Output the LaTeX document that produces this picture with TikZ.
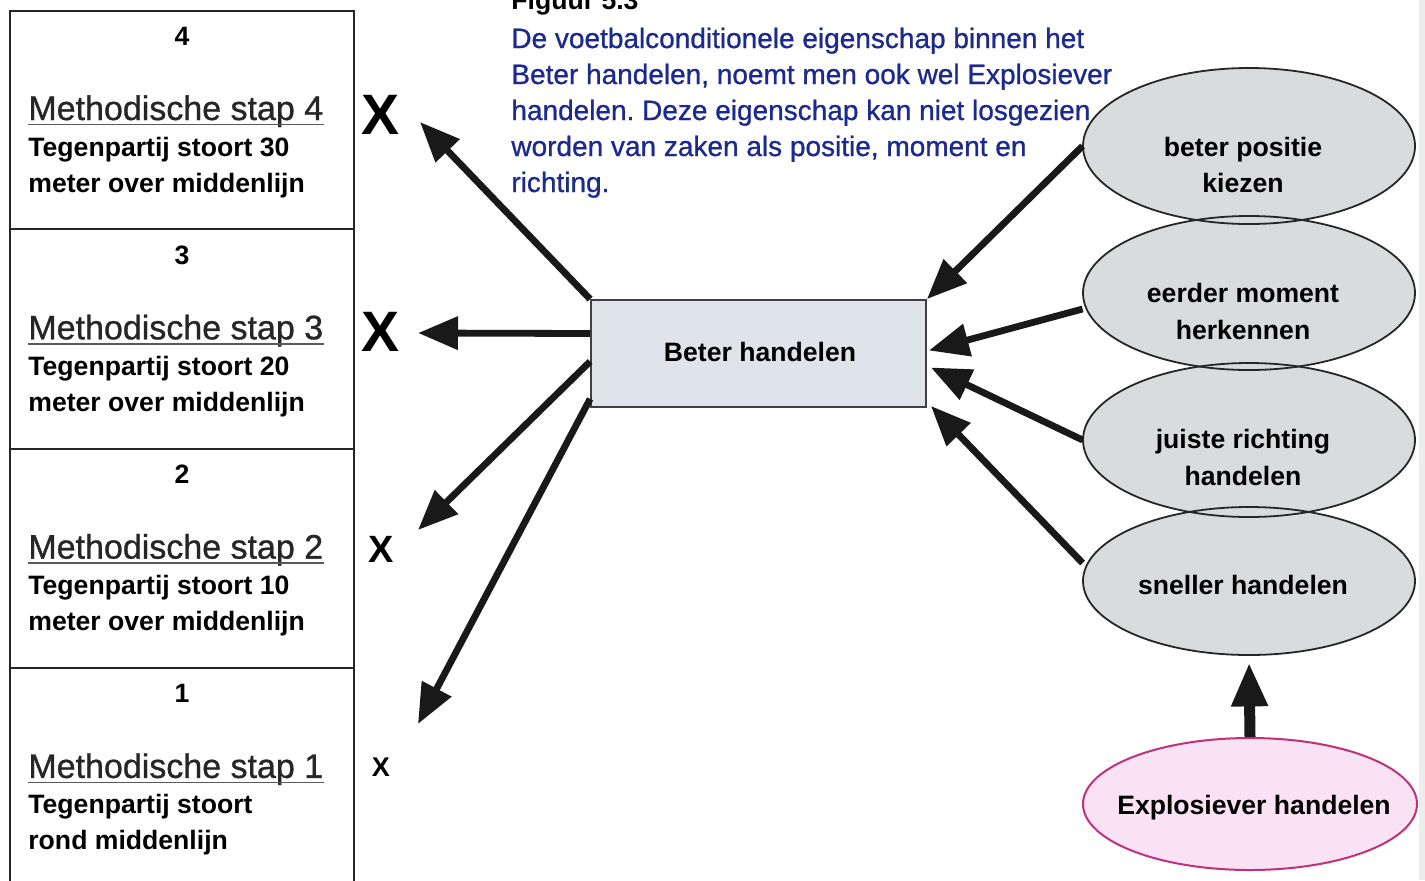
\documentclass[tikz,border=0pt]{standalone}
\usepackage{fontspec}
\setmainfont{Liberation Sans}
\newfontfamily\medfont[FakeBold=0.9]{Liberation Sans}
\usetikzlibrary{arrows.meta,shapes.geometric}
\definecolor{navytext}{HTML}{1B2A8C}
\definecolor{methgray}{HTML}{262626}
\definecolor{boxfill}{HTML}{DEE4E9}
\definecolor{ellfill}{HTML}{D9DCDC}
\definecolor{pinkfill}{HTML}{F9E2F3}
\definecolor{pinkline}{HTML}{C2307A}
\frenchspacing
\begin{document}
\begin{tikzpicture}[x=0.5pt,y=-0.5pt,
  lbl/.style={inner sep=0pt, font=\fontsize{13.3}{16}\selectfont\bfseries},
  meth/.style={inner sep=0pt, anchor=base west, text=methgray, font=\medfont\fontsize{17}{20}\selectfont},
  bluetext/.style={inner sep=0pt, anchor=base west, text=navytext, font=\medfont\fontsize{14}{18}\selectfont},
  xmark/.style={inner sep=0pt, font=\bfseries},
  ellbody/.style={ellipse, inner sep=0pt, fill=ellfill, minimum width=166pt},
  ellline/.style={line width=0.9pt, black!85},
  bigarrow/.style={line width=3.4pt, black!90, -{Triangle[length=20pt,width=16pt]}},
  uline/.style={line width=0.8pt, black!65},
  frame/.style={line width=1pt, black!85}]
\useasboundingbox (0,0) rectangle (1425,880);
\clip (0,0) rectangle (1425,880);
\fill[black!7] (1419,0) rectangle (1425,880);

% column of method steps
\draw[frame] (10,900) -- (10,11) -- (354,11) -- (354,900);
\foreach \yy in {229,449,668} \draw[frame] (10,\yy) -- (354,\yy);
\foreach \n/\la/\lb [count=\i from 0] in {
    4/{Tegenpartij stoort 30}/{meter over middenlijn},
    3/{Tegenpartij stoort 20}/{meter over middenlijn},
    2/{Tegenpartij stoort 10}/{meter over middenlijn},
    1/{Tegenpartij stoort}/{rond middenlijn}} {
  \pgfmathsetmacro\dy{219.3*\i}
  \node[lbl, anchor=base] (num\n) at (182,45+\dy) {\n};
  \node[meth] (meth\n) at (28,120+\dy) {Methodische stap \n};
  \draw[uline] ([yshift=-2.2pt]meth\n.base west) -- ([yshift=-2.2pt]meth\n.base east);
  \node[lbl, anchor=base west] (la\n) at (28,156+\dy) {\la};
  \node[lbl, anchor=base west] (lb\n) at (28,192+\dy) {\lb};
}

% X marks of decreasing size
\node[xmark, font=\fontsize{28.5}{30}\selectfont\bfseries] (x4) at (381,115) {X};
\node[xmark, font=\fontsize{28.5}{30}\selectfont\bfseries] (x3) at (381,332) {X};
\node[xmark, font=\fontsize{19}{22}\selectfont\bfseries] (x2) at (381,549) {X};
\node[xmark, font=\fontsize{13.5}{16}\selectfont\bfseries] (x1) at (381,767) {X};

% caption text
\node[lbl, anchor=base west] (fig) at (511,9) {Figuur 5.3};
\node[bluetext] (b1) at (511,48) {De voetbalconditionele eigenschap binnen het};
\node[bluetext] (b2) at (511,84) {Beter handelen, noemt men ook wel Explosiever};
\node[bluetext] (b3) at (511,120) {handelen. Deze eigenschap kan niet losgezien};
\node[bluetext] (b4) at (511,156) {worden van zaken als positie, moment en};
\node[bluetext] (b5) at (511,192) {richting.};

% central box
\node[rectangle, draw=black!75, line width=0.9pt, fill=boxfill,
      minimum width=167.5pt, minimum height=53.5pt, inner sep=0pt] (box) at (758.5,353.5) {};
\node[lbl, anchor=base] (boxt) at (760,361) {Beter handelen};

% the four aspects
\node[ellbody, minimum height=78pt] (e1) at (1249,146) {};
\node[ellbody, minimum height=77pt] (e2) at (1249,293) {};
\node[ellbody, minimum height=77pt] (e3) at (1249,440) {};
\node[ellbody, minimum height=74pt] (e4) at (1249,581) {};
\draw[ellline] (e1.center) ellipse [x radius=83pt, y radius=39pt];
\draw[ellline] (e2.center) ellipse [x radius=83pt, y radius=38.5pt];
\draw[ellline] (e3.center) ellipse [x radius=83pt, y radius=38.5pt];
\draw[ellline] (e4.center) ellipse [x radius=83pt, y radius=37pt];
\node[lbl, anchor=base] (t1a) at (1243,156) {beter positie};
\node[lbl, anchor=base] (t1b) at (1243,192) {kiezen};
\node[lbl, anchor=base] (t2a) at (1243,302) {eerder moment};
\node[lbl, anchor=base] (t2b) at (1243,339) {herkennen};
\node[lbl, anchor=base] (t3a) at (1243,448) {juiste richting};
\node[lbl, anchor=base] (t3b) at (1243,485) {handelen};
\node[lbl, anchor=base] (t4) at (1243,594) {sneller handelen};

% source of explosiveness
\node[ellipse, inner sep=0pt, fill=pinkfill, draw=pinkline, line width=1pt,
      minimum width=167pt, minimum height=66pt] (e5) at (1250,804) {};
\node[lbl, anchor=base] (t5) at (1254,814) {Explosiever handelen};

% arrows into the central box
\draw[bigarrow] (e1.west) -- (box.north east);
\draw[bigarrow] ([yshift=-8pt]e2.west) -- ([xshift=1pt,yshift=1.5pt]box.east);
\draw[bigarrow] (e3.west) -- ([xshift=2pt,yshift=-7pt]box.east);
\draw[bigarrow] ([yshift=9pt]e4.west) -- ([xshift=2pt,yshift=1pt]box.south east);
\draw[line width=5.5pt, black!90, -{Triangle[length=22pt,width=17pt]}, shorten >=3.5pt] (e5.north) -- (e4.south);

% arrows out to the method steps
\coordinate (tip4) at (420,122);
\coordinate (tip3) at (418,333);
\coordinate (tip2) at (418,530);
\coordinate (tip1) at (418,724);
\draw[bigarrow] (box.north west) -- (tip4);
\draw[bigarrow] ([yshift=10pt]box.west) -- (tip3);
\draw[bigarrow] ([yshift=-4pt]box.west) -- (tip2);
\draw[bigarrow] ([yshift=4.5pt]box.south west) -- (tip1);
\end{tikzpicture}
\end{document}
